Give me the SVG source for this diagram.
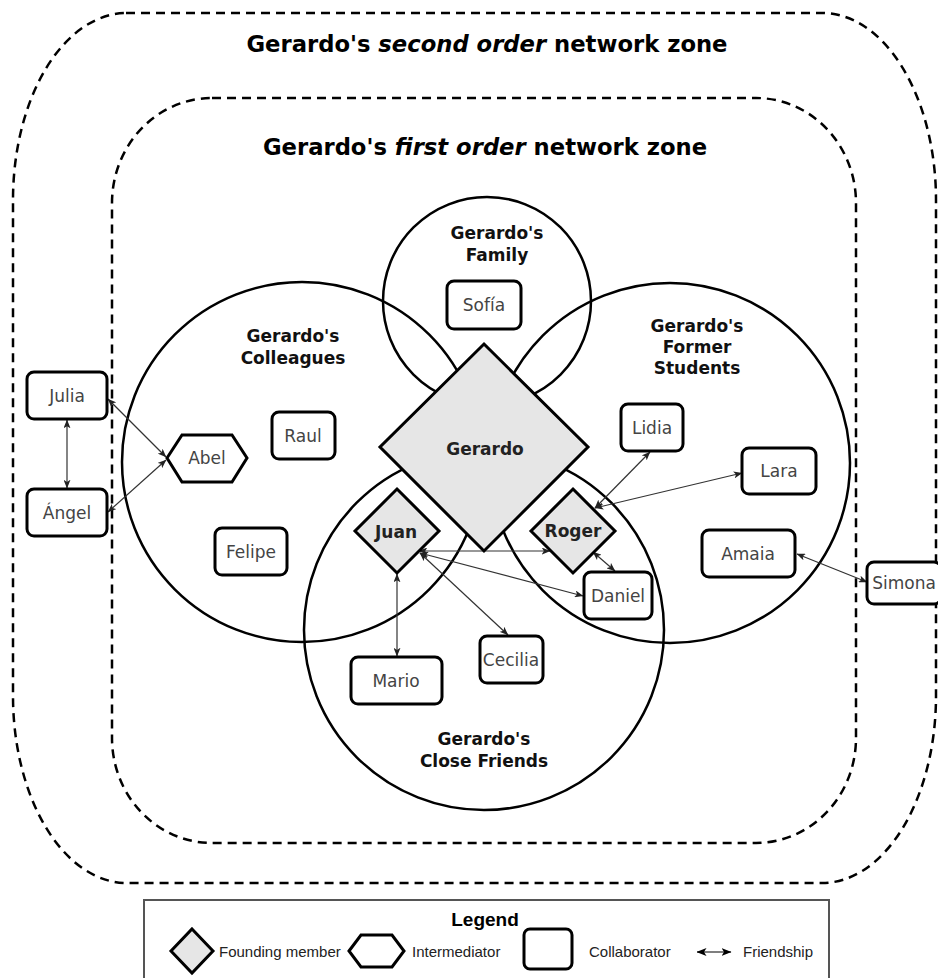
<svg xmlns="http://www.w3.org/2000/svg" width="938" height="978" viewBox="0 0 938 978">
<defs>
<marker id="ah" viewBox="0 0 10 8" refX="9.5" refY="4" markerWidth="9" markerHeight="7" markerUnits="userSpaceOnUse" orient="auto-start-reverse">
<path d="M0,0 L10,4 L0,8 L2.5,4 Z" fill="#222"/>
</marker>
<marker id="ahl" viewBox="0 0 10 8" refX="9.5" refY="4" markerWidth="10" markerHeight="8" markerUnits="userSpaceOnUse" orient="auto-start-reverse">
<path d="M0,0 L10,4 L0,8 L2.5,4 Z" fill="#000"/>
</marker>
</defs>
<style>
.zone{fill:none;stroke:#000;stroke-width:2.5;stroke-dasharray:9 6}
.circ{fill:none;stroke:#000;stroke-width:2.5}
.dia{fill:#e6e6e6;stroke:#000;stroke-width:3;stroke-linejoin:miter}
.box{fill:#fff;stroke:#000;stroke-width:3}
.hex{fill:#fff;stroke:#000;stroke-width:3}
.ttl{font-family:"DejaVu Sans",sans-serif;font-weight:bold;font-size:22.7px;fill:#000;text-anchor:middle}
.grp{font-family:"DejaVu Sans",sans-serif;font-weight:bold;font-size:17px;fill:#111;text-anchor:middle}
.lbl{font-family:"DejaVu Sans",sans-serif;font-size:17px;fill:#444;text-anchor:middle}
.blbl{font-family:"DejaVu Sans",sans-serif;font-weight:bold;font-size:17px;fill:#222;text-anchor:middle}
.con{fill:none;stroke:#333;stroke-width:1.2;marker-start:url(#ah);marker-end:url(#ah)}
.leg{font-family:"Liberation Sans",Arial,sans-serif;font-size:15px;fill:#222}
</style>
<rect width="938" height="978" fill="#fff"/>

<g id="zone-second">
<path class="zone" d="M126,13 H822 A114,187 0 0 1 936,200 V696 A114,187 0 0 1 822,883 H126 A114,187 0 0 1 13,696 V200 A114,187 0 0 1 126,13 Z"/>
<text class="ttl" x="487" y="52">Gerardo's <tspan font-style="italic">second order</tspan> network zone</text>
</g>
<g id="zone-first">
<path class="zone" d="M212,98 H756 A100,105 0 0 1 856,203 V738 A100,105 0 0 1 756,843 H212 A100,105 0 0 1 112,738 V203 A100,105 0 0 1 212,98 Z"/>
<text class="ttl" x="485" y="155">Gerardo's <tspan font-style="italic">first order</tspan> network zone</text>
</g>

<g id="circle-family">
<circle class="circ" cx="487" cy="301" r="104"/>
<text class="grp" x="497" y="239">Gerardo's</text>
<text class="grp" x="497" y="261">Family</text>
</g>
<g id="circle-colleagues">
<circle class="circ" cx="302" cy="462" r="180"/>
<text class="grp" x="293" y="342">Gerardo's</text>
<text class="grp" x="293" y="364">Colleagues</text>
</g>
<g id="circle-students">
<circle class="circ" cx="670" cy="463" r="180"/>
<text class="grp" x="697" y="332">Gerardo's</text>
<text class="grp" x="697" y="353">Former</text>
<text class="grp" x="697" y="374">Students</text>
</g>
<g id="circle-friends">
<circle class="circ" cx="484" cy="630" r="180"/>
<text class="grp" x="484" y="745">Gerardo's</text>
<text class="grp" x="484" y="767">Close Friends</text>
</g>

<g id="connectors">
<line class="con" x1="108" y1="399" x2="166" y2="457"/>
<line class="con" x1="108" y1="512" x2="166" y2="460"/>
<line class="con" x1="67" y1="420" x2="67" y2="488"/>
<line class="con" x1="419" y1="551" x2="550" y2="551"/>
<line class="con" x1="420" y1="553" x2="583" y2="596"/>
<line class="con" x1="420" y1="553" x2="508" y2="635"/>
<line class="con" x1="397" y1="574" x2="397" y2="656"/>
<line class="con" x1="595" y1="508" x2="650" y2="452"/>
<line class="con" x1="595" y1="508" x2="742" y2="473"/>
<line class="con" x1="593" y1="552" x2="615" y2="571"/>
<line class="con" x1="797" y1="554" x2="867" y2="582"/>
</g>

<g id="node-gerardo">
<polygon class="dia" points="484,344 588,447 484,551 380,447"/>
<text class="blbl" x="485" y="455">Gerardo</text>
</g>
<g id="node-juan">
<polygon class="dia" points="397,489 439,531 397,573 355,531"/>
<text class="blbl" x="396" y="538">Juan</text>
</g>
<g id="node-roger">
<polygon class="dia" points="573,489 615,531 573,573 531,531"/>
<text class="blbl" x="573" y="537">Roger</text>
</g>
<g id="node-abel">
<polygon class="hex" points="167,458 182,435 232,435 247,458 232,482 182,482"/>
<text class="lbl" x="207" y="464">Abel</text>
</g>
<g id="node-sofia"><rect class="box" x="447" y="281" width="74" height="48" rx="7"/><text class="lbl" x="484" y="311">Sofía</text></g>
<g id="node-julia"><rect class="box" x="27" y="372" width="80" height="47" rx="7"/><text class="lbl" x="67" y="402">Julia</text></g>
<g id="node-angel"><rect class="box" x="27" y="489" width="80" height="47" rx="7"/><text class="lbl" x="67" y="519">Ángel</text></g>
<g id="node-raul"><rect class="box" x="272" y="412" width="63" height="47" rx="7"/><text class="lbl" x="303" y="442">Raul</text></g>
<g id="node-felipe"><rect class="box" x="215" y="528" width="72" height="47" rx="7"/><text class="lbl" x="251" y="558">Felipe</text></g>
<g id="node-lidia"><rect class="box" x="621" y="404" width="62" height="47" rx="7"/><text class="lbl" x="652" y="434">Lidia</text></g>
<g id="node-lara"><rect class="box" x="742" y="448" width="74" height="46" rx="7"/><text class="lbl" x="779" y="477">Lara</text></g>
<g id="node-amaia"><rect class="box" x="702" y="530" width="93" height="47" rx="7"/><text class="lbl" x="748" y="560">Amaia</text></g>
<g id="node-simona"><rect class="box" x="867" y="562" width="74" height="42" rx="7"/><text class="lbl" x="904" y="589">Simona</text></g>
<g id="node-daniel"><rect class="box" x="584" y="572" width="68" height="47" rx="7"/><text class="lbl" x="618" y="602">Daniel</text></g>
<g id="node-mario"><rect class="box" x="351" y="657" width="91" height="47" rx="7"/><text class="lbl" x="396" y="687">Mario</text></g>
<g id="node-cecilia"><rect class="box" x="480" y="636" width="63" height="47" rx="7"/><text class="lbl" x="511" y="666">Cecilia</text></g>

<g id="legend">
<rect x="144" y="900" width="685" height="90" fill="#fff" stroke="#555" stroke-width="2"/>
<text x="485" y="926" font-family="'Liberation Sans',Arial,sans-serif" font-size="19" font-weight="bold" fill="#000" text-anchor="middle">Legend</text>
<polygon class="dia" points="192,929 213,951 192,973 171,951"/>
<text class="leg" x="219" y="957">Founding member</text>
<polygon class="hex" points="349,951 361,935 392,935 404,951 392,967 361,967"/>
<text class="leg" x="412" y="957">Intermediator</text>
<rect class="box" x="524" y="929" width="48" height="40" rx="6"/>
<text class="leg" x="589" y="957">Collaborator</text>
<line x1="697" y1="952" x2="731" y2="952" stroke="#000" stroke-width="1.2" marker-start="url(#ahl)" marker-end="url(#ahl)"/>
<text class="leg" x="743" y="957">Friendship</text>
</g>
</svg>
